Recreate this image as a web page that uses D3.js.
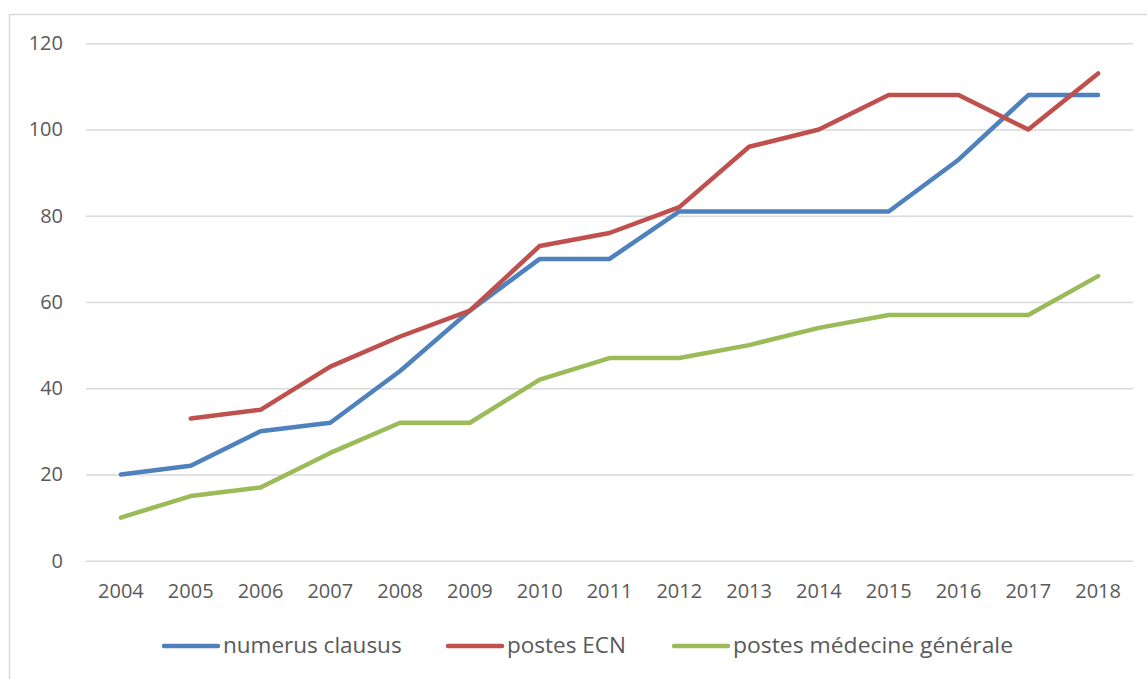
<!DOCTYPE html>
<html><head><meta charset="utf-8">
<script src="https://cdn.jsdelivr.net/npm/d3@7"></script>
<style>body{margin:0;background:#fff}text{font-family:"Open Sans",sans-serif;fill:#595959}</style>
</head><body>
<svg id="c" width="1147" height="679"></svg>
<script>
const years = [2004,2005,2006,2007,2008,2009,2010,2011,2012,2013,2014,2015,2016,2017,2018];
const numerusClausus = [20,22,30,32,44,58,70,70,81,81,81,81,93,108,108];
const postesECN = [null,33,35,45,52,58,73,76,82,96,100,108,108,100,113];
const postesMG = [10,15,17,25,32,32,42,47,47,50,54,57,57,57,66];
const yTicks = [0,20,40,60,80,100,120];
const seriesNames = ["numerus clausus","postes ECN","postes médecine générale"];
const colors = ["#4F81BD","#C0504D","#9BBB59"];

const svg = d3.select("#c");
svg.append("rect").attr("x",9.5).attr("y",14.5).attr("width",1160).attr("height",680)
  .attr("fill","none").attr("stroke","#d9d9d9").attr("stroke-width",1.5);

const x = d3.scaleBand().domain(years).range([86,1133]);
const y = d3.scaleLinear().domain([0,120]).range([560.7,43.3]);

const yAxis = svg.append("g").attr("transform","translate(86,0)")
  .call(d3.axisLeft(y).tickValues(yTicks).tickSize(-1047).tickPadding(23));
yAxis.select(".domain").remove();
yAxis.selectAll("line").attr("stroke","#d9d9d9").attr("stroke-width",1.5);
yAxis.selectAll("text").style("font-size","20px").attr("fill","#595959").attr("font-family",null);

const xAxis = svg.append("g").attr("transform","translate(0,560.7)")
  .call(d3.axisBottom(x).tickSize(0).tickPadding(23));
xAxis.select(".domain").remove();
xAxis.selectAll("text").style("font-size","20px").attr("fill","#595959").attr("font-family",null);

const data = [numerusClausus, postesECN, postesMG];
const line = d3.line().defined(d=>d!=null).x((d,i)=>x(years[i])+x.bandwidth()/2).y(d=>y(d));
data.forEach((s,k)=>{
  svg.append("path").datum(s).attr("d",line).attr("fill","none")
    .attr("stroke",colors[k]).attr("stroke-width",4.5)
    .attr("stroke-linecap","round").attr("stroke-linejoin","round");
});

const legX = [164,448,674];
const textW = [179,118,280];
const leg = svg.append("g");
seriesNames.forEach((n,k)=>{
  leg.append("line").attr("x1",legX[k]).attr("x2",legX[k]+54).attr("y1",646).attr("y2",646)
    .attr("stroke",colors[k]).attr("stroke-width",4.5).attr("stroke-linecap","round");
  const t = leg.append("text").attr("x",legX[k]+59).attr("y",645.5).attr("dy","0.35em")
    .style("font-size","22.5px").text(n);
  const w = t.node().getComputedTextLength();
  if (Math.abs(w - textW[k]) > 3) t.attr("textLength", textW[k]).attr("lengthAdjust","spacingAndGlyphs");
});
</script>
</body></html>
